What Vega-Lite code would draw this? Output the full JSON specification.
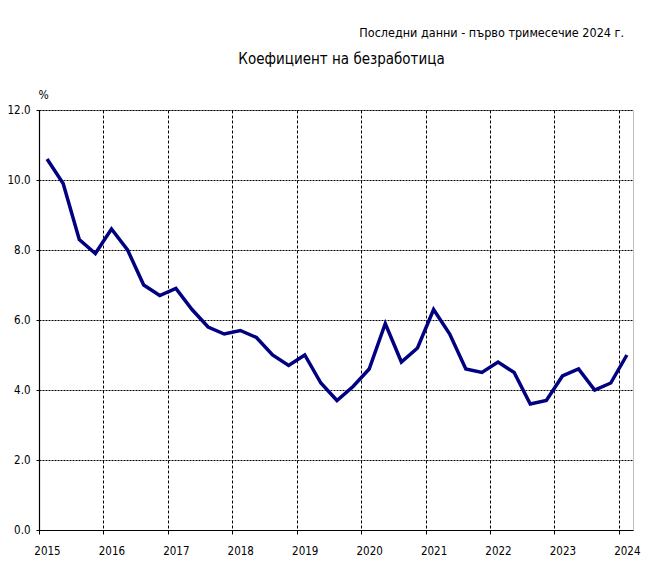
{
  "$schema": "https://vega.github.io/schema/vega-lite/v6.json",
  "width": 594,
  "height": 420,
  "autosize": {"type": "none"},
  "padding": {"left": 39, "top": 110, "right": 17, "bottom": 35},
  "background": "white",
  "config": {
    "font": "DejaVu Sans Condensed, DejaVu Sans, sans-serif",
    "view": {"stroke": "#c0c0c0", "strokeWidth": 1},
    "axis": {
      "labelFont": "DejaVu Sans Condensed, DejaVu Sans, sans-serif",
      "titleFont": "DejaVu Sans Condensed, DejaVu Sans, sans-serif",
      "labelColor": "black",
      "titleColor": "black",
      "labelFontSize": 11.5,
      "titleFontWeight": "normal"
    }
  },
  "title": {
    "text": "Последни данни - първо тримесечие 2024 г.",
    "anchor": "end",
    "frame": "group",
    "font": "DejaVu Sans Condensed, DejaVu Sans, sans-serif",
    "fontSize": 12.5,
    "fontWeight": "normal",
    "color": "black",
    "dx": -9,
    "offset": 12
  },
  "data": {
    "values": [
      {"t": 2015.125, "rate": 10.6},
      {"t": 2015.375, "rate": 9.9},
      {"t": 2015.625, "rate": 8.3},
      {"t": 2015.875, "rate": 7.9},
      {"t": 2016.125, "rate": 8.6},
      {"t": 2016.375, "rate": 8.0},
      {"t": 2016.625, "rate": 7.0},
      {"t": 2016.875, "rate": 6.7},
      {"t": 2017.125, "rate": 6.9},
      {"t": 2017.375, "rate": 6.3},
      {"t": 2017.625, "rate": 5.8},
      {"t": 2017.875, "rate": 5.6},
      {"t": 2018.125, "rate": 5.7},
      {"t": 2018.375, "rate": 5.5},
      {"t": 2018.625, "rate": 5.0},
      {"t": 2018.875, "rate": 4.7},
      {"t": 2019.125, "rate": 5.0},
      {"t": 2019.375, "rate": 4.2},
      {"t": 2019.625, "rate": 3.7},
      {"t": 2019.875, "rate": 4.1},
      {"t": 2020.125, "rate": 4.6},
      {"t": 2020.375, "rate": 5.9},
      {"t": 2020.625, "rate": 4.8},
      {"t": 2020.875, "rate": 5.2},
      {"t": 2021.125, "rate": 6.3},
      {"t": 2021.375, "rate": 5.6},
      {"t": 2021.625, "rate": 4.6},
      {"t": 2021.875, "rate": 4.5},
      {"t": 2022.125, "rate": 4.8},
      {"t": 2022.375, "rate": 4.5},
      {"t": 2022.625, "rate": 3.6},
      {"t": 2022.875, "rate": 3.7},
      {"t": 2023.125, "rate": 4.4},
      {"t": 2023.375, "rate": 4.6},
      {"t": 2023.625, "rate": 4.0},
      {"t": 2023.875, "rate": 4.2},
      {"t": 2024.125, "rate": 5.0}
    ]
  },
  "encoding": {
    "y": {
      "field": "rate",
      "type": "quantitative",
      "scale": {"domain": [0, 12], "nice": false},
      "axis": {
        "values": [0, 2, 4, 6, 8, 10, 12],
        "format": ".1f",
        "title": "%",
        "titleAngle": 0,
        "titleFontSize": 12,
        "titleAlign": "center",
        "titleBaseline": "alphabetic",
        "titleX": 4,
        "titleY": -12,
        "tickSize": 3,
        "tickColor": "black",
        "domainColor": "black",
        "domainWidth": 1.2,
        "labelPadding": 6,
        "grid": true,
        "gridColor": "black",
        "gridDash": [2, 1],
        "gridWidth": 1,
        "gridOpacity": 1
      }
    }
  },
  "layer": [
    {
      "mark": {"type": "line", "color": "#000080", "strokeWidth": 3.5},
      "encoding": {
        "x": {
          "field": "t",
          "type": "quantitative",
          "scale": {"domain": [2015, 2024.22], "nice": false, "zero": false},
          "axis": {
            "orient": "bottom",
            "values": [2015, 2016, 2017, 2018, 2019, 2020, 2021, 2022, 2023, 2024],
            "format": "d",
            "title": null,
            "tickSize": 4,
            "tickColor": "black",
            "domainColor": "black",
            "domainWidth": 1.2,
            "labelPadding": 11,
            "labelAlign": "center",
            "labelOffset": 8,
            "labelFlush": false,
            "grid": true,
            "gridColor": "black",
            "gridDash": [3, 2],
            "gridWidth": 1,
            "gridOpacity": 1
          }
        }
      }
    },
    {
      "mark": {"type": "line", "color": "#000080", "strokeWidth": 3.5, "opacity": 0},
      "encoding": {
        "x": {
          "field": "t",
          "type": "quantitative",
          "scale": {"domain": [2015, 2024.22], "nice": false, "zero": false},
          "axis": {
            "orient": "top",
            "title": "Коефициент на безработица",
            "titleFontSize": 15,
            "titlePadding": 44,
            "titleX": 302,
            "labels": false,
            "ticks": false,
            "domain": false,
            "grid": false
          }
        }
      }
    }
  ],
  "resolve": {"axis": {"x": "independent"}}
}
